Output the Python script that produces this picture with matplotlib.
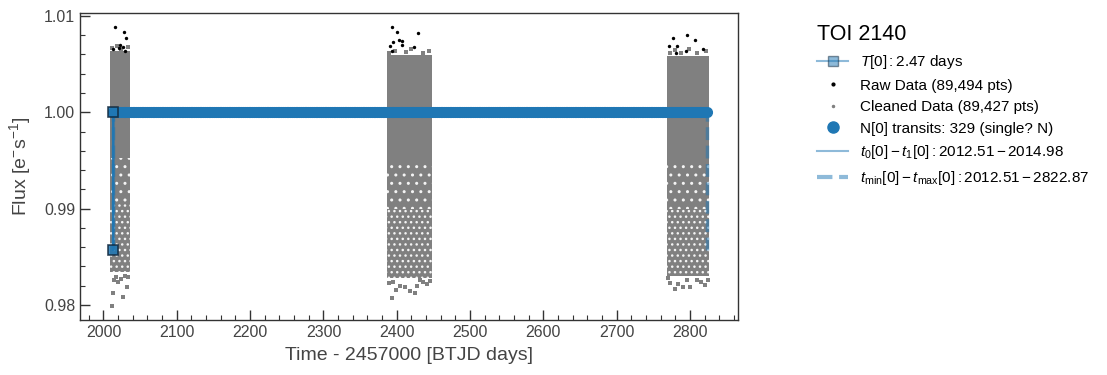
import numpy as np
import matplotlib
matplotlib.use("Agg")
import matplotlib.pyplot as plt
from matplotlib.lines import Line2D

# ---- data ----
toi = "TOI 2140"
n_raw, n_clean = 89494, 89427
period = 2.47
t0, t1 = 2012.51, 2014.98
tmin, tmax = 2012.51, 2822.87
n_transits = 329
depth_level = 0.9857

# observed chunks (sectors): time range and flux envelope of the cleaned data
sec_start = [2009.0, 2387.0, 2768.0]
sec_end = [2035.5, 2447.5, 2826.5]
core_top = [1.0064, 1.0059, 1.0058]
core_bot = [0.9953, 0.9948, 0.9950]
tail_mid = [0.9905, 0.9900, 0.9900]
tail_bot = [0.9834, 0.9828, 0.9830]

# raw points lying above the cleaned band
raw_t = [2015.5, 2027.5, 2031.0, 2023.0, 2026.5, 2021.0, 2013.5, 2029.0,
         2393.9, 2400.7, 2429.3, 2403.0, 2407.5, 2395.2, 2390.7, 2424.0, 2393.0, 2407.5,
         2777.2, 2806.8, 2771.4, 2781.8, 2818.2, 2794.6, 2780.8, 2796.0]
raw_f = [1.0088, 1.0083, 1.0077, 1.0070, 1.0068, 1.0067, 1.0066, 1.0064,
         1.0089, 1.0083, 1.0082, 1.0075, 1.0074, 1.0073, 1.0069, 1.0068, 1.0064, 1.0070,
         1.0077, 1.0075, 1.0069, 1.0069, 1.0066, 1.0064, 1.0061, 1.0080]

# cleaned points just above the dense band
top_t = [2012.0, 2018.0, 2024.5, 2033.0, 2390.0, 2398.0, 2412.0, 2420.0, 2436.0, 2444.0,
         2772.0, 2779.0, 2788.0, 2799.0, 2810.0, 2822.0]
top_f = [1.0067, 1.0069, 1.0066, 1.0068, 1.0062, 1.0064, 1.0063, 1.0066, 1.0062, 1.0064,
         1.0062, 1.0065, 1.0061, 1.0066, 1.0062, 1.0064]

# cleaned points at the lower fringe of each chunk
low_t = [2013.2, 2026.0, 2020.0, 2031.5, 2011.0, 2017.5, 2029.0, 2024.0, 2014.5, 2033.0,
         2393.0, 2411.0, 2424.8, 2431.7, 2395.2, 2436.0, 2404.0, 2418.0, 2441.0, 2390.0,
         2399.0, 2428.0, 2445.0,
         2779.6, 2791.0, 2800.0, 2820.4, 2772.7, 2809.0, 2784.0, 2815.0, 2796.0, 2770.0,
         2824.0]
low_f = [0.9812, 0.9808, 0.9824, 0.9819, 0.9799, 0.9829, 0.9830, 0.9827, 0.9826, 0.9829,
         0.9807, 0.9819, 0.9813, 0.9826, 0.9824, 0.9824, 0.9820, 0.9815, 0.9822, 0.9823,
         0.9816, 0.9820, 0.9825,
         0.9817, 0.9819, 0.9819, 0.9821, 0.9823, 0.9826, 0.9822, 0.9824, 0.9826, 0.9828,
         0.9826]

transit_times = np.linspace(tmin, tmax, n_transits)

plt.rcParams['font.family'] = ['Liberation Sans', 'DejaVu Sans']
plt.rcParams['mathtext.fontset'] = 'custom'
plt.rcParams['mathtext.rm'] = 'Liberation Sans'
plt.rcParams['mathtext.it'] = 'Liberation Sans:italic'
plt.rcParams['hatch.linewidth'] = 1.0

grey_txt = '#444444'
blue = '#1f77b4'
dgrey = '#808080'

fig = plt.figure(figsize=(11.07, 3.75), dpi=100)
ax = fig.add_axes([0.0723, 0.1467, 0.5941, 0.8186])

# cleaned data: dense core and speckled tail of each chunk
for a, b, ct, cb, tm, tb in zip(sec_start, sec_end, core_top, core_bot, tail_mid, tail_bot):
    ax.fill_between([a, b], [cb, cb], [ct, ct], color=dgrey, lw=0, zorder=1)
    ax.fill_between([a, b], [tm, tm], [cb, cb], facecolor=dgrey, edgecolor='#f4f4f4',
                    hatch='..', lw=0, zorder=1)
    ax.fill_between([a, b], [tb, tb], [tm, tm], facecolor=dgrey, edgecolor='#f4f4f4',
                    hatch='...', lw=0, zorder=1)
ax.scatter(top_t, top_f, s=6, marker='s', color=dgrey, lw=0, zorder=1)
ax.scatter(low_t, low_f, s=6, marker='s', color=dgrey, lw=0, zorder=1)
ax.scatter(raw_t, raw_f, s=6, color='k', lw=0, zorder=2)

# transits
ax.plot(transit_times, np.ones(n_transits), 'o', ms=7, color=blue, lw=0, zorder=3)
ax.vlines([t0, t1], depth_level, 1.0, color=blue, alpha=0.5, lw=1.5, zorder=4)
ax.vlines([tmin, tmax], depth_level, 1.0, color=blue, alpha=0.5, lw=2.5,
          linestyles='--', zorder=4)
ax.plot([t0, t0], [1.0, depth_level], '-s', color=blue, lw=1.5, ms=7,
        mec='#10283d', mew=1.2, alpha=0.85, zorder=5)

ax.set_xlim(1968, 2865)
ax.set_ylim(0.97845, 1.0103)
ax.set_xticks(np.arange(2000, 2801, 100))
ax.set_xticks(np.arange(1980, 2865, 20), minor=True)
ax.set_yticks([0.98, 0.99, 1.00, 1.01])
ax.set_yticks(np.arange(0.98, 1.0103, 0.002), minor=True)
ax.set_yticklabels(['0.98', '0.99', '1.00', '1.01'])
ax.tick_params(which='both', direction='in', color='#333333', labelcolor=grey_txt,
               labelsize=11.5)
ax.tick_params(which='major', length=7, width=1)
ax.tick_params(which='minor', length=3.6, width=0.8)
for sp in ax.spines.values():
    sp.set_color('#333333')
    sp.set_linewidth(1)
ax.set_xlabel('Time - 2457000 [BTJD days]', fontsize=14, color=grey_txt, labelpad=5)
ax.set_ylabel(r'Flux [e$^{-}$s$^{-1}$]', fontsize=14, color=grey_txt, labelpad=8)

# legend
h_T = Line2D([], [], color=blue, alpha=0.5, lw=1.5, marker='s', ms=7,
             mfc=blue, mec='#10283d')
h_raw = Line2D([], [], ls='', marker='o', ms=2, color='k')
h_clean = Line2D([], [], ls='', marker='o', ms=1.5, color=dgrey)
h_tr = Line2D([], [], ls='', marker='o', ms=8, color=blue)
h_t01 = Line2D([], [], color=blue, alpha=0.5, lw=1.5)
h_tmm = Line2D([], [], color=blue, alpha=0.5, lw=3, ls='--')
labels = [r'$T[0]:$' + f'{period:.2f} days',
          f'Raw Data ({n_raw:,} pts)',
          f'Cleaned Data ({n_clean:,} pts)',
          f'N[0] transits: {n_transits} (single? N)',
          r'$t_0[0]-t_1[0]: %.2f-%.2f$' % (t0, t1),
          r'$t_{\rm min}[0]-t_{\rm max}[0]: %.2f-%.2f$' % (tmin, tmax)]
leg = ax.legend([h_T, h_raw, h_clean, h_tr, h_t01, h_tmm], labels,
                loc='upper left', bbox_to_anchor=(0.726, 0.972),
                bbox_transform=fig.transFigure, frameon=False, fontsize=11,
                title=toi, title_fontsize=15.5, alignment='left',
                labelspacing=0.5)

fig.savefig('out.png', dpi=100)
